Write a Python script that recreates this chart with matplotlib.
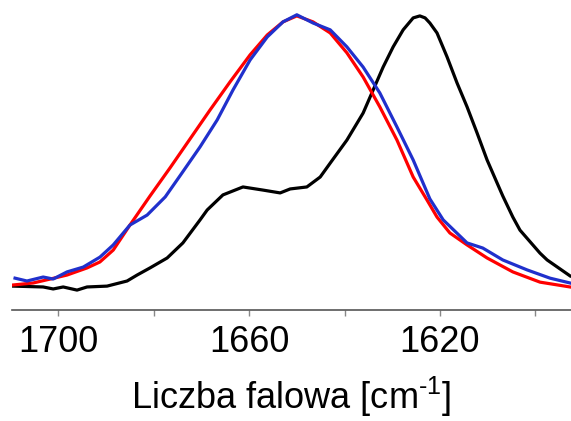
import numpy as np
import matplotlib
matplotlib.use('Agg')
import matplotlib.pyplot as plt
from matplotlib.ticker import FixedLocator

plt.rcParams['font.family'] = ['Liberation Sans', 'DejaVu Sans']
plt.rcParams['mathtext.fontset'] = 'custom'
plt.rcParams['mathtext.rm'] = 'Liberation Sans'
plt.rcParams['mathtext.it'] = 'Liberation Sans:italic'

# widma (znormalizowane) - czarne
wn_black = [1709.5, 1703.2, 1701.1, 1699.0, 1696.1, 1694.0, 1689.8, 1685.6, 1683.5, 1680.8,
            1677.2, 1673.9, 1670.3, 1668.8, 1665.5, 1661.3, 1657.1, 1653.5, 1651.4, 1647.9,
            1645.1, 1643.0, 1639.5, 1636.1, 1634.0, 1631.9, 1629.8, 1627.7, 1625.6, 1624.2,
            1623.1, 1622.1, 1620.6, 1618.5, 1616.4, 1614.3, 1612.2, 1610.1, 1608.0, 1606.8,
            1604.7, 1603.2, 1599.0, 1597.5, 1592.7]
abs_black = [0.049, 0.046, 0.039, 0.046, 0.035, 0.046, 0.049, 0.067, 0.088, 0.113,
             0.148, 0.201, 0.282, 0.317, 0.370, 0.398, 0.387, 0.377, 0.391, 0.398,
             0.433, 0.482, 0.563, 0.658, 0.739, 0.820, 0.891, 0.951, 0.993, 1.0,
             0.993, 0.975, 0.940, 0.856, 0.764, 0.680, 0.588, 0.493, 0.412, 0.366,
             0.292, 0.246, 0.165, 0.141, 0.085]

# czerwone
wn_red = [1709.5, 1705.3, 1701.7, 1698.2, 1694.0, 1691.3, 1688.5, 1685.0, 1680.8, 1676.6,
          1672.4, 1668.2, 1664.0, 1659.8, 1656.2, 1652.9, 1650.0, 1646.6, 1643.0, 1639.5,
          1636.1, 1632.6, 1629.0, 1625.6, 1622.7, 1620.6, 1617.9, 1614.3, 1610.1, 1604.7,
          1599.0, 1592.7]
abs_red = [0.053, 0.060, 0.074, 0.088, 0.113, 0.134, 0.176, 0.264, 0.366, 0.465,
           0.567, 0.669, 0.768, 0.863, 0.933, 0.979, 1.0, 0.979, 0.940, 0.870,
           0.785, 0.680, 0.563, 0.433, 0.352, 0.292, 0.236, 0.194, 0.148, 0.099,
           0.063, 0.046]

# niebieskie
wn_blue = [1709.1, 1706.6, 1703.2, 1701.1, 1698.2, 1694.8, 1691.3, 1688.5, 1685.0, 1681.4,
           1677.6, 1674.1, 1670.3, 1666.7, 1663.4, 1659.8, 1656.2, 1652.9, 1650.0, 1646.6,
           1643.0, 1639.5, 1636.1, 1632.6, 1629.0, 1625.6, 1622.1, 1619.3, 1614.3, 1611.0,
           1606.8, 1601.7, 1596.9, 1592.7]
abs_blue = [0.077, 0.067, 0.081, 0.074, 0.099, 0.116, 0.151, 0.194, 0.264, 0.299,
            0.363, 0.447, 0.539, 0.634, 0.739, 0.845, 0.926, 0.979, 1.004, 0.975,
            0.951, 0.891, 0.820, 0.729, 0.609, 0.493, 0.356, 0.282, 0.201, 0.183,
            0.141, 0.106, 0.077, 0.060]

major_ticks = [1700, 1660, 1620]
minor_ticks = [1680, 1640, 1600]

fig = plt.figure(figsize=(5.71, 4.21), dpi=100)
ax = fig.add_axes([0.0205, 0.2637, 0.9795, 0.7363])

ax.plot(wn_black, abs_black, color='black', lw=2.3)
ax.plot(wn_red, abs_red, color='#ff0000', lw=2.3)
ax.plot(wn_blue, abs_blue, color='#2030cc', lw=2.3)

ax.set_xlim(1709.8, 1592.5)
ax.set_ylim(-0.035, 1.056)

for s in ['top', 'right', 'left']:
    ax.spines[s].set_visible(False)
ax.spines['bottom'].set_color('#555555')
ax.spines['bottom'].set_linewidth(1.2)
ax.set_yticks([])

ax.xaxis.set_major_locator(FixedLocator(major_ticks))
ax.xaxis.set_minor_locator(FixedLocator(minor_ticks))
ax.tick_params(axis='x', which='both', direction='out', length=4, width=1.0,
               color='#888888', labelsize=26, pad=7)

fig.text(291.5 / 571, 2 / 421, 'Liczba falowa [cm$^{\u20101}$]', fontsize=26,
         ha='center', va='bottom')

plt.savefig('out.png', dpi=100)
